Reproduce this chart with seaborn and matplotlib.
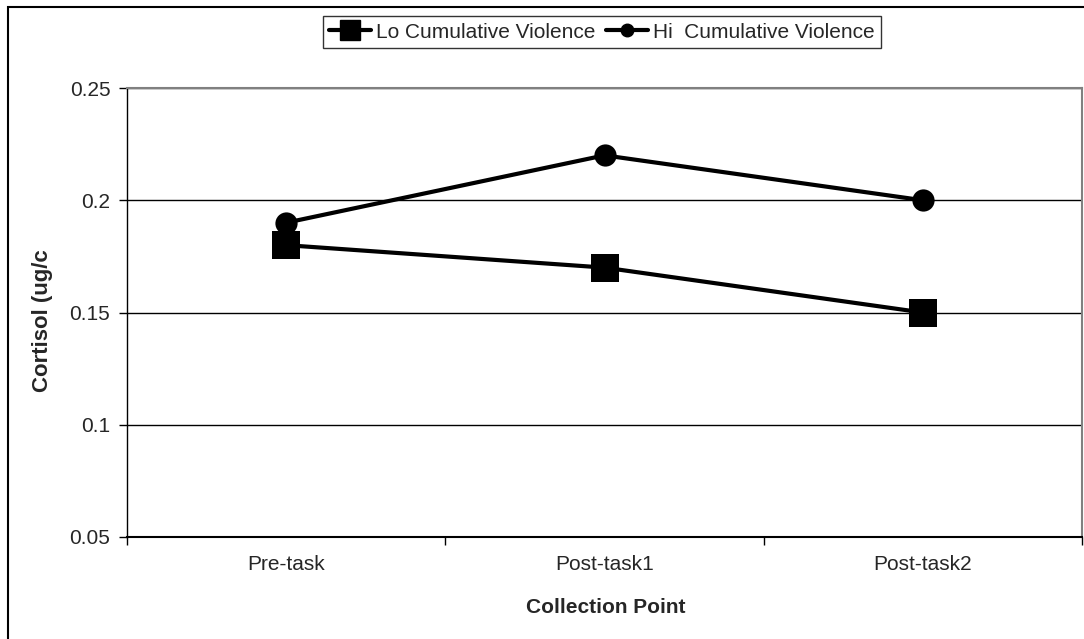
import matplotlib
matplotlib.use("Agg")
import matplotlib.pyplot as plt
import seaborn as sns
import pandas as pd
from matplotlib.patches import Rectangle
from matplotlib.lines import Line2D

categories = ["Pre-task", "Post-task1", "Post-task2"]
lo_values = [0.18, 0.17, 0.15]
hi_values = [0.19, 0.22, 0.20]
series_names = ["Lo Cumulative Violence", "Hi  Cumulative Violence"]
y_ticks = [0.05, 0.1, 0.15, 0.2, 0.25]
y_tick_labels = ["0.05", "0.1", "0.15", "0.2", "0.25"]

df = pd.DataFrame({
    "point": categories * 2,
    "x": list(range(len(categories))) * 2,
    "value": lo_values + hi_values,
    "series": [series_names[0]] * 3 + [series_names[1]] * 3,
})

sns.set_style("white")
plt.rcParams["font.family"] = ["Liberation Sans", "DejaVu Sans"]

fig = plt.figure(figsize=(10.84, 6.39), dpi=100)
ax = fig.add_axes([127 / 1084, 1 - 537 / 639, (1082 - 127) / 1084, (537 - 88) / 639])

sns.lineplot(data=df, x="x", y="value", hue="series", style="series",
             palette=["black", "black"], markers={series_names[0]: "s", series_names[1]: "o"},
             dashes=False, linewidth=3, ax=ax, legend=False,
             markeredgecolor="black", markeredgewidth=0)
lines = ax.get_lines()
for ln in lines:
    ln.set_markeredgecolor("black")
    ln.set_zorder(3)
if len(lines) >= 2:
    lines[0].set_markersize(20)
    lines[1].set_markersize(16)

ax.set_xlim(-0.5, 2.5)
ax.set_ylim(0.05, 0.25)
ax.set_yticks(y_ticks)
ax.set_yticklabels(y_tick_labels, fontsize=15)
ax.set_xticks([0, 1, 2])
ax.set_xticklabels(categories, fontsize=15)
ax.set_xticks([-0.5, 0.5, 1.5, 2.5], minor=True)
ax.tick_params(axis="x", which="major", length=0, pad=13)
ax.tick_params(axis="x", which="minor", length=6, width=1, direction="out", color="black", bottom=True)
ax.tick_params(axis="y", which="major", length=6, width=1, direction="out", color="black", left=True, pad=6)

for y in y_ticks[1:]:
    ax.axhline(y, color="black", linewidth=1, zorder=0)

for s in ["top", "right"]:
    ax.spines[s].set_color("#808080")
    ax.spines[s].set_linewidth(1.5)
ax.spines["left"].set_color("black")
ax.spines["left"].set_linewidth(1)
ax.spines["bottom"].set_color("black")
ax.spines["bottom"].set_linewidth(1.5)

ax.set_xlabel("Collection Point", fontsize=15, fontweight="bold")
ax.xaxis.set_label_coords((606 - 127) / (1082 - 127), -(598 - 537) / (537 - 88))
ax.set_ylabel("Cortisol (ug/c", fontsize=16, fontweight="bold")
ax.yaxis.set_label_coords(-(127 - 53) / (1082 - 127), (537 - 321) / (537 - 88))

handles = [
    Line2D([], [], color="black", marker="s", markersize=14, linewidth=3),
    Line2D([], [], color="black", marker="o", markersize=9, linewidth=3),
]
leg = fig.legend(handles, series_names, loc="center", bbox_to_anchor=(602 / 1084, 1 - 32 / 639),
                 ncol=2, frameon=True, fontsize=15, handlelength=2.0, columnspacing=0.5,
                 handletextpad=0.25, borderpad=0.3, fancybox=False)
leg.get_frame().set_edgecolor("black")
leg.get_frame().set_linewidth(1)

# outer chart border
fig.patches.append(Rectangle((8 / 1084, -0.01), 1.02, 1 - 7 / 639 + 0.01, transform=fig.transFigure,
                             fill=False, edgecolor="black", linewidth=1.5))

fig.savefig("out.png", dpi=100)
